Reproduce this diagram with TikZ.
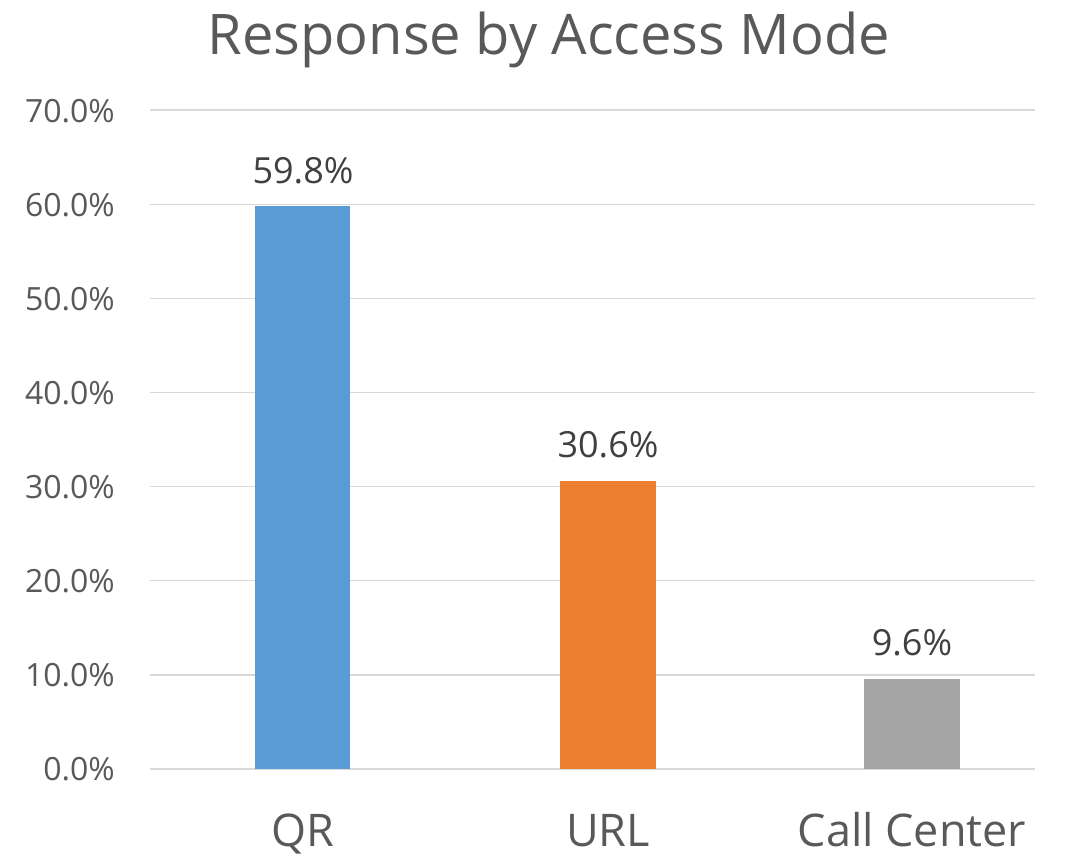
\documentclass[tikz,border=0pt]{standalone}
\usepackage{fontspec}
\setmainfont{Open Sans}
\usepackage{xcolor}
\usetikzlibrary{positioning}

\definecolor{qrblue}{HTML}{5B9BD5}
\definecolor{urlorange}{HTML}{ED7D31}
\definecolor{callgray}{HTML}{A5A5A5}
\definecolor{gridgray}{HTML}{D9D9D9}
\definecolor{textgray}{HTML}{595959}
\definecolor{valgray}{HTML}{404040}

\begin{document}
\begin{tikzpicture}[
  x=1pt, y=1pt,
  gridline/.style={draw=gridgray, line width=1.3pt},
  ticklbl/.style={anchor=base east, text=textgray, inner sep=0pt,
                  font=\fontsize{32}{32}\selectfont},
  catlbl/.style={anchor=base, text=textgray, inner sep=0pt,
                 font=\fontsize{45}{45}\selectfont},
  vallbl/.style={anchor=base, text=valgray, inner sep=0pt,
                 font=\fontsize{36}{36}\selectfont},
  titlelbl/.style={anchor=base, text=textgray, inner sep=0pt,
                   font=\fontsize{56}{56}\selectfont}
]
\useasboundingbox (0,0) rectangle (1066,859);

% Title
\node[titlelbl] (title) at (549,804) {Response by Access Mode};

% Gridlines and y-axis labels (10% = 94.14 px)
\foreach \k/\lbl in {0/0,1/10,2/20,3/30,4/40,5/50,6/60,7/70} {
  \draw[gridline] (150,90+94.14*\k) -- (1035,90+94.14*\k);
  \node[ticklbl] (tick\k) at (115,78+94.14*\k) {\lbl.0\%};
}

% Bars
\fill[qrblue]    (255,90) rectangle (350,90+9.414*59.8);
\fill[urlorange] (560,90) rectangle (656,90+9.414*30.6);
\fill[callgray]  (864,90) rectangle (960,90+9.414*9.6);

% Value labels
\node[vallbl] (qrval)   at (303,113+9.414*59.8) {59.8\%};
\node[vallbl] (urlval)  at (608,113+9.414*30.6) {30.6\%};
\node[vallbl] (callval) at (912,113+9.414*9.6) {9.6\%};

% Category labels
\node[catlbl] (qr)   at (303,12) {QR};
\node[catlbl] (url)  at (608,12) {URL};
\node[catlbl] (call) at (912,12) {Call Center};

\end{tikzpicture}
\end{document}
